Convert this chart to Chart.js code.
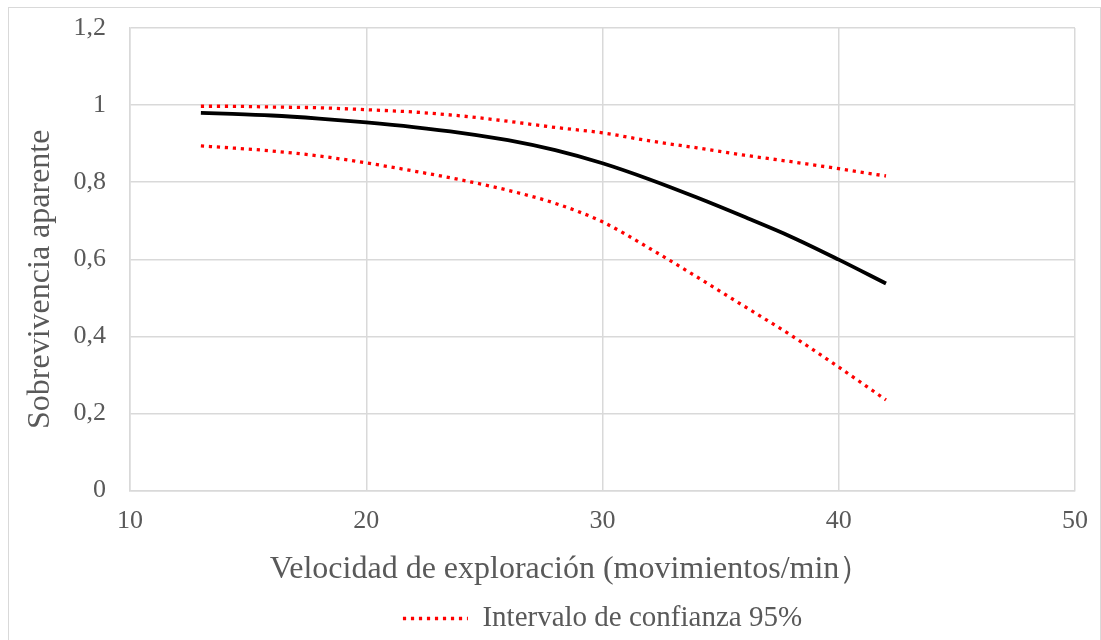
<!DOCTYPE html>
<html>
<head>
<meta charset="utf-8">
<script src="https://cdn.jsdelivr.net/npm/chart.js@4.4.1/dist/chart.umd.min.js"></script>
<style>
  html, body { margin: 0; padding: 0; background: #fff; overflow: hidden; }
  #frame { position: absolute; left: 8px; top: 7px; width: 1093px; height: 700px; border: 1.5px solid #d9d9d9; box-sizing: border-box; }
  #c { position: absolute; left: 0; top: 0; }
</style>
</head>
<body>
<div id="frame"></div>
<canvas id="c" width="1101" height="680"></canvas>
<script>
// velocidad de exploración (movimientos/min)
const xValues = [13, 14, 16, 18, 20, 22, 24, 26, 28, 30, 32, 34, 36, 38, 40, 42];
// sobrevivencia aparente estimada
const survival = [0.980, 0.978, 0.973, 0.965, 0.955, 0.943, 0.928, 0.909, 0.883, 0.849, 0.807, 0.760, 0.710, 0.658, 0.599, 0.537];
// límites del intervalo de confianza 95%
const upperCI = [0.997, 0.997, 0.995, 0.993, 0.988, 0.982, 0.972, 0.958, 0.942, 0.928, 0.907, 0.889, 0.870, 0.853, 0.835, 0.816];
const lowerCI = [0.894, 0.890, 0.881, 0.868, 0.850, 0.829, 0.806, 0.779, 0.745, 0.697, 0.628, 0.554, 0.478, 0.402, 0.320, 0.235];

const ciLabel = 'Intervalo de confianza 95%';
// trailing spaces nudge the titles off-centre like the original
const xTitle = 'Velocidad de exploración (movimientos/min）' + '\u00a0'.repeat(8);
const yTitle = 'Sobrevivencia aparente' + '\u00a0'.repeat(5);

const toPoints = ys => ys.map((y, i) => ({ x: xValues[i], y }));

const textColor = '#595959';
const gridColor = '#d9d9d9';
const serif = '"Liberation Serif", "Times New Roman", serif';

const dotted = {
  borderColor: '#ff0000',
  backgroundColor: '#ff0000',
  borderWidth: 3.3,
  borderDash: [3.2, 4.8],
  borderCapStyle: 'butt',
  pointRadius: 0,
  cubicInterpolationMode: 'monotone',
  fill: false,
};

new Chart(document.getElementById('c'), {
  type: 'line',
  data: {
    datasets: [
      {
        label: 'Sobrevivencia',
        data: toPoints(survival),
        borderColor: '#000',
        borderWidth: 3.8,
        pointRadius: 0,
        cubicInterpolationMode: 'monotone',
        fill: false,
      },
      { ...dotted, label: ciLabel, data: toPoints(upperCI) },
      { ...dotted, label: ciLabel, data: toPoints(lowerCI) },
    ],
  },
  options: {
    responsive: false,
    animation: false,
    devicePixelRatio: 1,
    layout: { padding: { left: 10, top: 28, right: 26, bottom: 37 } },
    scales: {
      x: {
        type: 'linear',
        min: 10,
        max: 50,
        ticks: { stepSize: 10, padding: 15, color: textColor, font: { family: serif, size: 26 } },
        grid: { color: gridColor, lineWidth: 1.5, drawTicks: false },
        border: { color: gridColor, width: 1.5 },
        title: {
          display: true,
          text: xTitle,
          color: textColor,
          font: { family: serif, size: 32 },
          padding: { top: 0, bottom: 5 },
        },
        afterFit: s => {
          s.height = 103.5;
          s.paddingLeft = 0;
          s.paddingRight = 0;
        },
      },
      y: {
        min: 0,
        max: 1.2,
        ticks: {
          stepSize: 0.2,
          padding: 24,
          color: textColor,
          font: { family: serif, size: 26 },
          callback: v => String(Math.round(v * 10) / 10).replace('.', ','),
        },
        grid: { color: gridColor, lineWidth: 1.5, drawTicks: false },
        border: { color: gridColor, width: 1.5 },
        title: {
          display: true,
          text: yTitle,
          color: textColor,
          font: { family: serif, size: 32 },
          padding: { top: 11, bottom: 0 },
        },
        afterFit: s => {
          s.width = 120;
          s.paddingTop = 0;
          s.paddingBottom = 0;
        },
      },
    },
    plugins: {
      tooltip: { enabled: false },
      legend: {
        position: 'bottom',
        fullSize: false,
        labels: {
          filter: (item) => item.datasetIndex === 1,
          generateLabels: chart => Chart.defaults.plugins.legend.labels.generateLabels(chart)
            .map(item => ({ ...item, lineDash: dotted.borderDash, lineCap: 'butt', lineWidth: dotted.borderWidth })),
          usePointStyle: true,
          pointStyle: 'line',
          pointStyleWidth: 65,
          color: textColor,
          font: { family: serif, size: 29 },
          padding: 10,
        },
      },
    },
  },
});
</script>
</body>
</html>
